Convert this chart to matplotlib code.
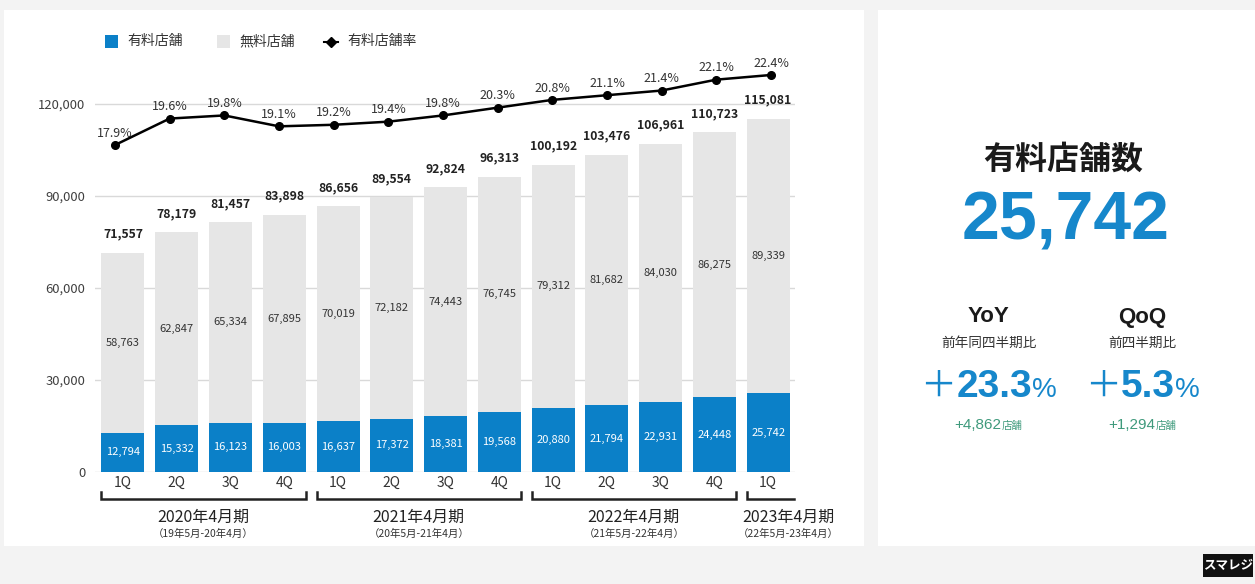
import matplotlib
matplotlib.use("Agg")
import matplotlib.pyplot as plt
from matplotlib.patches import Rectangle
from matplotlib.lines import Line2D

plt.rcParams['font.family'] = ['Noto Sans CJK JP', 'DejaVu Sans']

# ---- data -------------------------------------------------------------
quarters = ['1Q', '2Q', '3Q', '4Q', '1Q', '2Q', '3Q', '4Q',
            '1Q', '2Q', '3Q', '4Q', '1Q']
paid_stores = [12794, 15332, 16123, 16003, 16637, 17372, 18381, 19568,
               20880, 21794, 22931, 24448, 25742]
free_stores = [58763, 62847, 65334, 67895, 70019, 72182, 74443, 76745,
               79312, 81682, 84030, 86275, 89339]
total_stores = [71557, 78179, 81457, 83898, 86656, 89554, 92824, 96313,
                100192, 103476, 106961, 110723, 115081]
paid_ratio = [17.9, 19.6, 19.8, 19.1, 19.2, 19.4, 19.8, 20.3,
              20.8, 21.1, 21.4, 22.1, 22.4]
fiscal_years = ['2020年4月期', '2021年4月期', '2022年4月期', '2023年4月期']
fiscal_spans = ['（19年5月-20年4月）', '（20年5月-21年4月）',
                '（21年5月-22年4月）', '（22年5月-23年4月）']
y_ticks = [0, 30000, 60000, 90000, 120000]

headline_title = '有料店舗数'
headline_value = 25742
yoy_pct, yoy_diff = 23.3, 4862
qoq_pct, qoq_diff = 5.3, 1294

# ---- style ------------------------------------------------------------
BLUE = '#0b80c8'
BLUE_TXT = '#1687cb'
GRAY_BAR = '#e6e6e6'
GRID = '#d9d9d9'
GREEN = '#3f9a7c'
BG = '#f3f3f3'

W, H = 1255, 584
fig = plt.figure(figsize=(W / 100, H / 100), dpi=100)
fig.patch.set_facecolor(BG)

# pixel-space canvas for panels, legend and side texts
bg = fig.add_axes([0, 0, 1, 1], zorder=-1)
bg.set_xlim(0, W)
bg.set_ylim(H, 0)
bg.axis('off')
bg.add_patch(Rectangle((4, 10), 860, 536, facecolor='white', edgecolor='none'))
bg.add_patch(Rectangle((878, 10), 380, 536, facecolor='white', edgecolor='none'))

# ---- main bar chart ---------------------------------------------------
ax_left, ax_right, ax_top, ax_bottom = 95, 795, 60, 472
rect = [ax_left / W, (H - ax_bottom) / H, (ax_right - ax_left) / W,
        (ax_bottom - ax_top) / H]
ax = fig.add_axes(rect)
ax.set_facecolor('none')

x = list(range(len(quarters)))
bw = 0.8
ax.bar(x, paid_stores, width=bw, color=BLUE, zorder=3)
ax.bar(x, free_stores, width=bw, bottom=paid_stores, color=GRAY_BAR, zorder=3)

ax.set_xlim(-0.52, 12.5)
ax.set_ylim(0, 134350)
ax.set_yticks(y_ticks)
ax.set_yticklabels([f'{v:,}' for v in y_ticks])
ax.yaxis.grid(True, color=GRID, linewidth=1.0, zorder=0)
ax.set_axisbelow(True)
for s in ax.spines.values():
    s.set_visible(False)
ax.tick_params(axis='y', length=0, pad=7, labelsize=9.4, labelcolor='#404040')
ax.set_xticks(x)
ax.set_xticklabels(quarters)
ax.tick_params(axis='x', length=0, pad=3, labelsize=10, labelcolor='#333333')

for i in x:
    ax.text(i, paid_stores[i] / 2, f'{paid_stores[i]:,}', ha='center',
            va='center', fontsize=8, color='white', zorder=4)
    ax.text(i, paid_stores[i] + free_stores[i] / 2, f'{free_stores[i]:,}',
            ha='center', va='center', fontsize=8, color='#333333', zorder=4)
    ax.annotate(f'{total_stores[i]:,}', (i, total_stores[i]),
                xytext=(0, 13.5), textcoords='offset points', ha='center',
                va='center', fontsize=8.8, fontweight='bold', color='#222222')

# fiscal-year brackets under the quarter labels
tr = ax.get_xaxis_transform()
y_line, y_tick = -0.0655, -0.0485
groups = [(-0.4, 3.4, True), (3.6, 7.4, True), (7.6, 11.4, True),
          (11.6, 12.48, False)]
for (a, b, right_tick) in groups:
    xs = [a, a, b] + ([b] if right_tick else [])
    ys = [y_tick, y_line, y_line] + ([y_tick] if right_tick else [])
    ax.plot(xs, ys, transform=tr, color='#222222', lw=1.8, clip_on=False,
            solid_joinstyle='miter')
label_x = [1.5, 5.5, 9.5, 12.37]
for lx, fy, sp in zip(label_x, fiscal_years, fiscal_spans):
    ax.text(lx, -0.109, fy, transform=tr, ha='center', va='center',
            fontsize=11.5, color='#222222')
    ax.text(lx, -0.150, sp, transform=tr, ha='center', va='center',
            fontsize=7.5, color='#333333')

# ---- paid-store ratio line --------------------------------------------
ax2 = fig.add_axes(rect)
ax2.set_facecolor('none')
ax2.axis('off')
ax2.set_xlim(-0.366, 12.44)
ax2.set_ylim(-3.115, 23.363)
ax2.plot(x, paid_ratio, color='black', lw=1.8, marker='o', markersize=5.5,
         zorder=5)
for i in x:
    ax2.annotate(f'{paid_ratio[i]:.1f}%', (i, paid_ratio[i]), xytext=(0, 8.5),
                 textcoords='offset points', ha='center', va='center',
                 fontsize=9, color='#333333')

# ---- legend -----------------------------------------------------------
bg.add_patch(Rectangle((105, 35), 13, 13, facecolor=BLUE, edgecolor='none'))
bg.text(127, 41.5, '有料店舗', fontsize=10, va='center', color='#333333')
bg.add_patch(Rectangle((217, 35), 13, 13, facecolor=GRAY_BAR, edgecolor='none'))
bg.text(239, 41.5, '無料店舗', fontsize=10, va='center', color='#333333')
bg.add_line(Line2D([324, 338], [41.5, 41.5], color='black', lw=1.5))
bg.plot([331], [41.5], marker='D', color='black', markersize=5)
bg.text(347, 41.5, '有料店舗率', fontsize=10, va='center', color='#333333')

# ---- side panel -------------------------------------------------------
fig.canvas.draw()
renderer = fig.canvas.get_renderer()


def text_row(cx, y, parts):
    """Place several differently styled pieces side by side, centred on cx."""
    objs = [bg.text(0, y, s, va='baseline', ha='left', **kw) for s, kw in parts]
    widths = [o.get_window_extent(renderer).width for o in objs]
    x0 = cx - sum(widths) / 2
    for o, w in zip(objs, widths):
        o.set_x(x0)
        x0 += w


bg.text(1063, 160, headline_title, ha='center', va='center', fontsize=23,
        fontweight='bold', color='#1a1a1a')
bg.text(1066, 221, f'{headline_value:,}', ha='center', va='center',
        fontsize=49, fontweight='bold', color=BLUE_TXT,
        family='Liberation Sans')

for cx, head, sub, pct, diff in [(988.5, 'YoY', '前年同四半期比', yoy_pct, yoy_diff),
                                 (1142.5, 'QoQ', '前四半期比', qoq_pct, qoq_diff)]:
    bg.text(cx, 317, head, ha='center', va='center', fontsize=16,
            fontweight='bold', color='#1a1a1a', family='Liberation Sans')
    bg.text(cx, 343, sub, ha='center', va='center', fontsize=9.8,
            color='#333333')
    text_row(cx, 397, [('＋', dict(fontsize=26, color=BLUE_TXT)),
                       (f'{pct:.1f}', dict(fontsize=28, fontweight='bold',
                                           color=BLUE_TXT,
                                           family='Liberation Sans')),
                       ('%', dict(fontsize=20, color=BLUE_TXT,
                                  family='Liberation Sans'))])
    text_row(cx, 429, [(f'+{diff:,}', dict(fontsize=11, color=GREEN,
                                           family='Liberation Sans')),
                       ('店舗', dict(fontsize=7.5, color=GREEN))])

# brand badge
bg.add_patch(Rectangle((1203, 554), 50, 23, facecolor='#111111', edgecolor='none'))
bg.text(1228, 565.5, 'スマレジ', ha='center', va='center', fontsize=9,
        fontweight='bold', color='white')

fig.savefig('out.png', dpi=100, facecolor=fig.get_facecolor())
